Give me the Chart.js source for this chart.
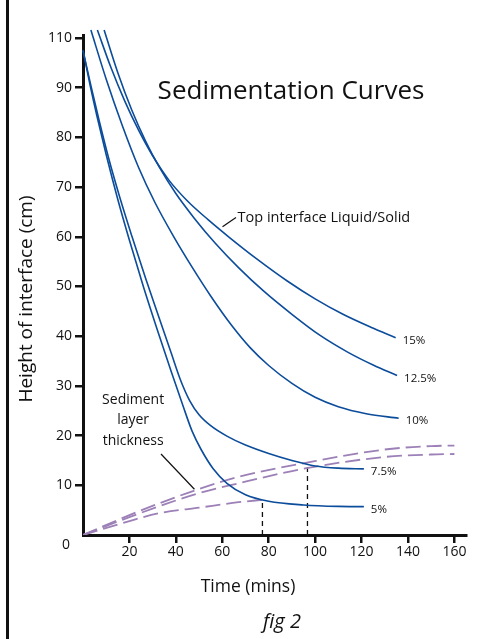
<!DOCTYPE html>
<html>
<head>
<meta charset="utf-8">
<script src="https://cdn.jsdelivr.net/npm/chart.js@4.4.1/dist/chart.umd.min.js"></script>
<style>
  html, body { margin: 0; padding: 0; background: #fff; }
  #wrap { width: 477px; height: 639px; }
</style>
</head>
<body>
<div id="wrap"><canvas id="sedChart" width="477" height="639"></canvas></div>
<script>
// time (mins) / height of interface (cm)
const curveLabels = ['15%', '12.5%', '10%', '7.5%', '5%'];

const time15 = [6.2, 12, 18, 24, 30, 37, 45, 54, 63, 75, 88, 100, 112, 124, 134.7];
const height15 = [101.6, 94.1, 87.3, 81.4, 76.3, 71.4, 67.2, 63.4, 59.9, 55.5, 51.1, 47.5, 44.4, 41.8, 39.7];

const time125 = [9.1, 15, 21, 27, 33, 40, 48, 57, 67, 78, 90, 102, 114, 125, 135.3];
const height125 = [101.6, 93.0, 85.5, 79.2, 73.9, 68.7, 63.7, 58.7, 53.8, 49.0, 44.4, 40.2, 36.8, 34.2, 32.1];

const time10 = [3.4, 10, 17, 24, 31, 39, 47, 55, 64, 72, 80, 90, 100, 110, 122, 136];
const height10 = [101.6, 91.7, 82.3, 73.9, 66.9, 60.1, 53.9, 48.1, 42.2, 37.7, 34.1, 30.5, 27.7, 25.8, 24.4, 23.5];

const time75 = [0, 3.5, 7, 11, 16, 21, 27, 33, 38, 42, 46, 50, 55, 62, 70, 80, 90, 100, 110, 121];
const height75 = [97.5, 90.2, 83.3, 75.9, 67.7, 60.2, 51.6, 43.4, 36.6, 31.2, 27.0, 24.2, 22.0, 19.9, 18.1, 16.4, 15.0, 13.9, 13.45, 13.3];

const time5 = [0, 3, 6, 10, 15, 20, 26, 32, 38, 43, 47, 51, 56, 62, 70, 80, 95, 110, 121];
const height5 = [97.5, 90.6, 84.3, 76.5, 67.5, 59.3, 50.0, 41.3, 32.9, 26.1, 20.9, 17.1, 13.4, 10.4, 8.1, 6.8, 6.05, 5.75, 5.7];

// sediment layer thickness (dashed)
const sedTimeA = [0, 20, 33, 49, 67, 97, 130, 150, 160];
const sedHeightA = [0, 4.0, 6.4, 9.1, 11.7, 14.6, 17.2, 17.9, 18.0];
const sedTimeB = [0, 20, 33, 49, 67, 97, 130, 150, 160];
const sedHeightB = [0, 3.6, 5.8, 8.3, 10.4, 13.5, 15.7, 16.2, 16.3];
const sedTimeC = [0, 20, 33, 50, 67, 78];
const sedHeightC = [0, 2.8, 4.4, 5.5, 6.6, 7.1];

// critical points dropped to the time axis
const dropTimes = [77.3, 96.7];
const dropHeights = [7.2, 14.2];

const xTickValues = [20, 40, 60, 80, 100, 120, 140, 160];
const yTickValues = [0, 10, 20, 30, 40, 50, 60, 70, 80, 90, 100];
const yTickLabels = ['0', '10', '20', '30', '40', '50', '60', '70', '80', '90', '110'];

const FONT = '"Open Sans", "Noto Sans", sans-serif';
const BLUE = '#0b4c9b';
const PURPLE = '#9c80b7';

const pts = (xs, ys) => xs.map((v, i) => ({ x: v, y: ys[i] }));

function curve(xs, ys) {
    return {
        data: pts(xs, ys),
        borderColor: BLUE,
        borderWidth: 1.6,
        pointRadius: 0,
        cubicInterpolationMode: 'monotone',
        clip: false
    };
}

function sediment(xs, ys) {
    return {
        data: pts(xs, ys),
        borderColor: PURPLE,
        borderWidth: 1.8,
        borderDash: [15, 6],
        pointRadius: 0,
        cubicInterpolationMode: 'monotone'
    };
}

const curveSets = [[time15, height15], [time125, height125], [time10, height10], [time75, height75], [time5, height5]];

const datasets = curveSets.map(([xs, ys]) => curve(xs, ys));
datasets.push(sediment(sedTimeA, sedHeightA), sediment(sedTimeB, sedHeightB), sediment(sedTimeC, sedHeightC));
dropTimes.forEach((t, i) => {
    datasets.push({
        data: [{ x: t, y: 0 }, { x: t, y: dropHeights[i] }],
        borderColor: '#111',
        borderWidth: 1.3,
        borderDash: [5, 4],
        pointRadius: 0
    });
});

const annotations = {
    id: 'annotations',
    afterDraw(chart) {
        const { ctx, scales: { x, y } } = chart;
        const px = (a, b) => [x.getPixelForValue(a), y.getPixelForValue(b)];
        ctx.save();
        ctx.fillStyle = '#111';
        ctx.strokeStyle = '#111';

        // page rule on the left
        ctx.fillRect(6, 0, 3, 639);

        ctx.textBaseline = 'middle';
        ctx.textAlign = 'center';
        ctx.font = `26px ${FONT}`;
        ctx.fillText('Sedimentation Curves', 291, 92);

        ctx.font = `17.5px ${FONT}`;
        ctx.fillText('Time (mins)', 248, 587);
        ctx.save();
        ctx.translate(27, 299);
        ctx.rotate(-Math.PI / 2);
        ctx.font = `19px ${FONT}`;
        ctx.fillText('Height of interface (cm)', 0, 0);
        ctx.restore();

        ctx.font = `italic 20px ${FONT}`;
        ctx.fillText('fig 2', 282, 622);

        // zero label sits below the corner
        ctx.font = `14px ${FONT}`;
        const [zx, zy] = px(0, 0);
        ctx.fillText(yTickLabels[0], zx - 17, zy + 10);

        // labels at curve ends
        ctx.textAlign = 'left';
        ctx.font = `11.5px ${FONT}`;
        curveSets.forEach(([xs, ys], i) => {
            const [lx, ly] = px(xs[xs.length - 1], ys[ys.length - 1]);
            ctx.fillText(curveLabels[i], lx + 7, ly + 3);
        });

        // callouts
        ctx.lineWidth = 1.2;
        ctx.font = `14.5px ${FONT}`;
        let [ax, ay] = px(60.1, 62.0);
        let [bx, by] = px(65.9, 63.9);
        ctx.beginPath(); ctx.moveTo(ax, ay); ctx.lineTo(bx, by); ctx.stroke();
        const [tx, ty] = px(66.6, 63.9);
        ctx.fillText('Top interface Liquid/Solid', tx, ty);

        ctx.font = `14px ${FONT}`;
        [ax, ay] = px(48, 9.2);
        [bx, by] = px(33.6, 16.3);
        ctx.beginPath(); ctx.moveTo(ax, ay); ctx.lineTo(bx, by); ctx.stroke();
        ctx.textAlign = 'center';
        ['Sediment', 'layer', 'thickness'].forEach((s, i) => {
            const [sx, sy] = px(21.6, 27.2 - i * 4.15);
            ctx.fillText(s, sx, sy);
        });
        ctx.restore();
    }
};

new Chart(document.getElementById('sedChart'), {
    type: 'line',
    data: { datasets },
    options: {
        responsive: false,
        animation: false,
        layout: { padding: { top: 35, right: 11, left: 0, bottom: 0 } },
        plugins: { legend: { display: false }, tooltip: { enabled: false } },
        scales: {
            x: {
                type: 'linear',
                min: 0,
                max: 165,
                afterBuildTicks: (s) => { s.ticks = xTickValues.map((v) => ({ value: v })); },
                afterFit: (s) => { s.height = 104; },
                grid: { drawOnChartArea: false, tickLength: 8, color: '#111', lineWidth: 2.5 },
                border: { color: '#111', width: 3 },
                ticks: { color: '#111', font: { family: FONT, size: 14 }, padding: 1, maxRotation: 0, autoSkip: false }
            },
            y: {
                min: 0,
                max: 100.6,
                afterBuildTicks: (s) => { s.ticks = yTickValues.slice(1).map((v) => ({ value: v })); },
                afterFit: (s) => { s.width = 83; },
                grid: { drawOnChartArea: false, tickLength: 8, color: '#111', lineWidth: 2.5 },
                border: { color: '#111', width: 3 },
                ticks: {
                    color: '#111',
                    font: { family: FONT, size: 14 },
                    padding: 3,
                    autoSkip: false,
                    callback: (v) => yTickLabels[yTickValues.indexOf(v)]
                }
            }
        }
    },
    plugins: [annotations]
});
</script>
</body>
</html>
